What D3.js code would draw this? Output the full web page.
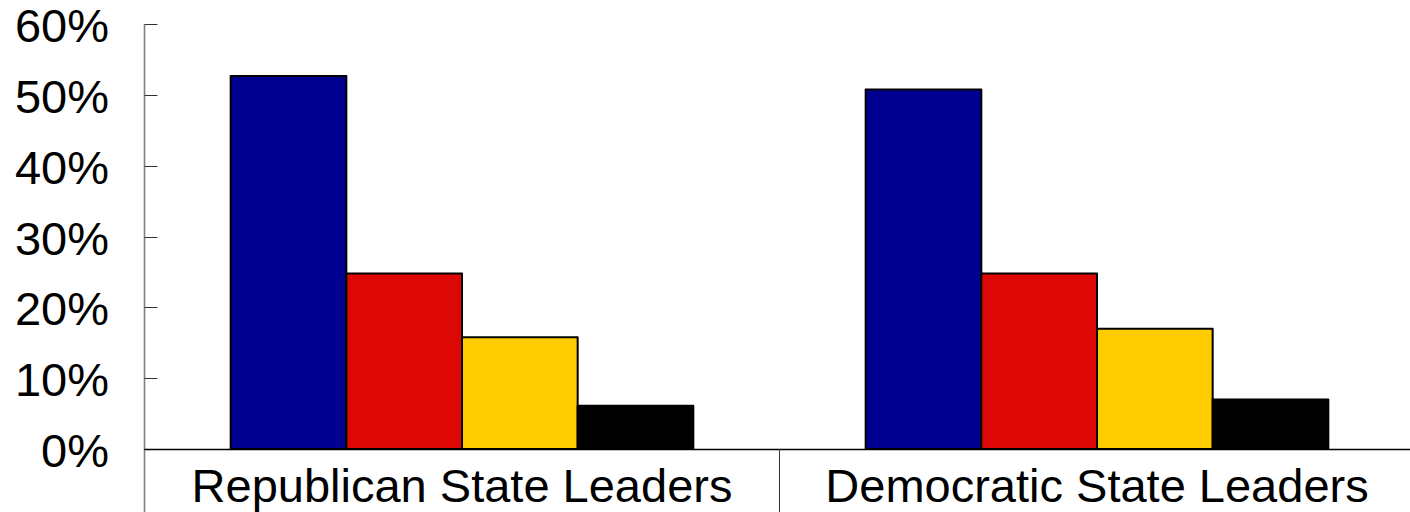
<!DOCTYPE html>
<html>
<head>
<meta charset="utf-8">
<script src="https://cdn.jsdelivr.net/npm/d3@7"></script>
<style>
  html, body { margin: 0; padding: 0; background: #ffffff; }
</style>
</head>
<body>
<div id="chart"></div>
<script>
const categories = ["Republican State Leaders", "Democratic State Leaders"];
const seriesNames = ["s1", "s2", "s3", "s4"];
const seriesColors = ["#000090", "#dd0806", "#ffcc00", "#000000"];
const values = [
  [52.7, 24.8, 15.8, 6.1],
  [50.8, 24.8, 17.0, 7.0]
];
const yTicks = [0, 10, 20, 30, 40, 50, 60];

const width = 1410;
const height = 512;
const font = "'Liberation Sans', Arial, sans-serif";

const svg = d3.select("#chart").append("svg")
  .attr("width", width)
  .attr("height", height)
  .style("font-family", font);

const x0 = 144.5;
const y = d3.scaleLinear()
  .domain([0, 60])
  .range([449, 24.3]);

const x = d3.scaleBand()
  .domain(categories)
  .range([x0, x0 + 1270])
  .padding(0);

// bars sit in the middle of each band
const xs = d3.scaleBand()
  .domain(seriesNames)
  .range([0, x.bandwidth()])
  .paddingInner(0)
  .paddingOuter(0.745);

// bars
const groups = svg.append("g")
  .selectAll("g")
  .data(categories)
  .join("g")
    .attr("transform", d => `translate(${x(d)},0)`);

groups.selectAll("rect")
  .data((d, i) => values[i].map((v, j) => ({ key: seriesNames[j], value: v, color: seriesColors[j] })))
  .join("rect")
    .attr("x", d => xs(d.key))
    .attr("y", d => y(d.value))
    .attr("width", xs.bandwidth())
    .attr("height", d => y(0) - y(d.value))
    .attr("fill", d => d.color)
    .attr("stroke", "#000000")
    .attr("stroke-width", 2)
    .attr("stroke-linejoin", "round");

// y axis
svg.append("line")
  .attr("x1", x0).attr("x2", x0)
  .attr("y1", y(60)).attr("y2", height)
  .attr("stroke", "#808080")
  .attr("stroke-width", 1.6);

svg.append("g")
  .selectAll("line")
  .data(yTicks)
  .join("line")
    .attr("x1", x0).attr("x2", x0 + 13)
    .attr("y1", d => Math.round(y(d)) + 0.5)
    .attr("y2", d => Math.round(y(d)) + 0.5)
    .attr("stroke", "#333333")
    .attr("stroke-width", 1);

svg.append("g")
  .selectAll("text")
  .data(yTicks)
  .join("text")
    .attr("x", 109)
    .attr("y", d => y(d) + 18)
    .attr("text-anchor", "end")
    .style("font-size", "47px")
    .style("fill", "#000000")
    .text(d => d + "%");

// baseline
svg.append("line")
  .attr("x1", x0).attr("x2", width)
  .attr("y1", y(0) + 0.5).attr("y2", y(0) + 0.5)
  .attr("stroke", "#000000")
  .attr("stroke-width", 1.5);

// category divider
svg.append("line")
  .attr("x1", x(categories[1])).attr("x2", x(categories[1]))
  .attr("y1", y(0)).attr("y2", height)
  .attr("stroke", "#333333")
  .attr("stroke-width", 1);

// category labels
svg.append("g")
  .selectAll("text")
  .data(categories)
  .join("text")
    .attr("x", d => x(d) + x.bandwidth() / 2)
    .attr("y", 502)
    .attr("text-anchor", "middle")
    .style("font-size", "47px")
    .style("fill", "#000000")
    .text(d => d);
</script>
</body>
</html>
